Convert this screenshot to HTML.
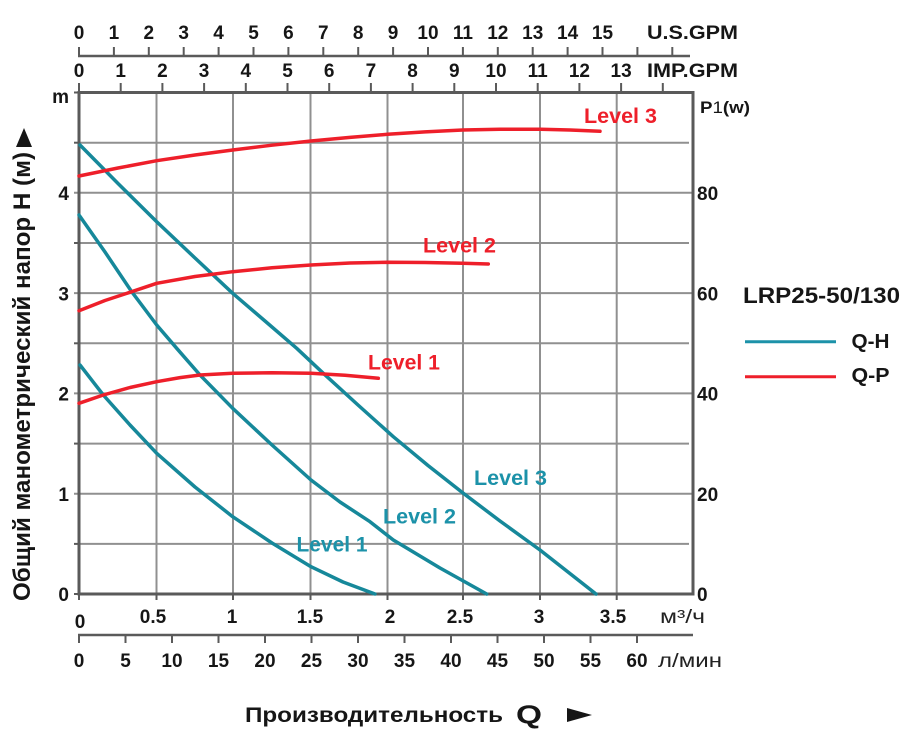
<!DOCTYPE html>
<html>
<head>
<meta charset="utf-8">
<style>
  html,body{margin:0;padding:0;background:#fff;}
  svg{display:block;}
  text{font-family:"Liberation Sans","DejaVu Sans",sans-serif;}
  .b{font-weight:bold;fill:#161616;}
</style>
</head>
<body>
<svg width="911" height="741" viewBox="0 0 911 741" xmlns="http://www.w3.org/2000/svg">
<rect x="0" y="0" width="911" height="741" fill="#fff"/>

<!-- grid -->
<g stroke="#909090" stroke-width="2" fill="none">
  <line x1="156.5" y1="92" x2="156.5" y2="594"/>
  <line x1="233" y1="92" x2="233" y2="594"/>
  <line x1="310.5" y1="92" x2="310.5" y2="594"/>
  <line x1="387.5" y1="92" x2="387.5" y2="594"/>
  <line x1="463" y1="92" x2="463" y2="594"/>
  <line x1="540" y1="92" x2="540" y2="594"/>
  <line x1="616.7" y1="92" x2="616.7" y2="594"/>
  <line x1="79" y1="543.9" x2="689" y2="543.9"/>
  <line x1="74" y1="493.7" x2="693" y2="493.7"/>
  <line x1="79" y1="443.6" x2="689" y2="443.6"/>
  <line x1="74" y1="393.4" x2="693" y2="393.4"/>
  <line x1="79" y1="343.3" x2="689" y2="343.3"/>
  <line x1="74" y1="293.1" x2="693" y2="293.1"/>
  <line x1="79" y1="243" x2="689" y2="243"/>
  <line x1="74" y1="192.8" x2="693" y2="192.8"/>
  <line x1="79" y1="142.7" x2="689" y2="142.7"/>
</g>
<!-- small left ticks at half steps -->
<g stroke="#5a5a5a" stroke-width="2">
  <line x1="74" y1="543.9" x2="79" y2="543.9"/>
  <line x1="74" y1="443.6" x2="79" y2="443.6"/>
  <line x1="74" y1="343.3" x2="79" y2="343.3"/>
  <line x1="74" y1="243" x2="79" y2="243"/>
  <line x1="74" y1="142.7" x2="79" y2="142.7"/>
  <line x1="74" y1="594" x2="79" y2="594"/>
  <line x1="74" y1="92.5" x2="79" y2="92.5"/>
  <!-- bottom ticks -->
  <line x1="79" y1="594" x2="79" y2="600"/>
  <line x1="156.5" y1="594" x2="156.5" y2="600"/>
  <line x1="233" y1="594" x2="233" y2="600"/>
  <line x1="310.5" y1="594" x2="310.5" y2="600"/>
  <line x1="387.5" y1="594" x2="387.5" y2="600"/>
  <line x1="463" y1="594" x2="463" y2="600"/>
  <line x1="540" y1="594" x2="540" y2="600"/>
  <line x1="616.7" y1="594" x2="616.7" y2="600"/>
</g>

<!-- frame -->
<rect x="79" y="92.5" width="614" height="501.5" fill="none" stroke="#5a5a5a" stroke-width="3"/>

<!-- US GPM axis -->
<g stroke="#5a5a5a" stroke-width="2.5">
  <line x1="78" y1="56" x2="690" y2="56"/>
</g>
<g stroke="#5a5a5a" stroke-width="2">
  <line x1="79" y1="47" x2="79" y2="56"/>
  <line x1="113.9" y1="47" x2="113.9" y2="56"/>
  <line x1="148.8" y1="47" x2="148.8" y2="56"/>
  <line x1="183.7" y1="47" x2="183.7" y2="56"/>
  <line x1="218.6" y1="47" x2="218.6" y2="56"/>
  <line x1="253.5" y1="47" x2="253.5" y2="56"/>
  <line x1="288.4" y1="47" x2="288.4" y2="56"/>
  <line x1="323.3" y1="47" x2="323.3" y2="56"/>
  <line x1="358.2" y1="47" x2="358.2" y2="56"/>
  <line x1="393.1" y1="47" x2="393.1" y2="56"/>
  <line x1="428" y1="47" x2="428" y2="56"/>
  <line x1="462.9" y1="47" x2="462.9" y2="56"/>
  <line x1="497.8" y1="47" x2="497.8" y2="56"/>
  <line x1="532.7" y1="47" x2="532.7" y2="56"/>
  <line x1="567.6" y1="47" x2="567.6" y2="56"/>
  <line x1="602.5" y1="47" x2="602.5" y2="56"/>
  <line x1="637.4" y1="47" x2="637.4" y2="56"/>
  <line x1="672.3" y1="47" x2="672.3" y2="56"/>
</g>
<g class="b" font-size="19" text-anchor="middle">
  <text x="79" y="39">0</text>
  <text x="113.9" y="39">1</text>
  <text x="148.8" y="39">2</text>
  <text x="183.7" y="39">3</text>
  <text x="218.6" y="39">4</text>
  <text x="253.5" y="39">5</text>
  <text x="288.4" y="39">6</text>
  <text x="323.3" y="39">7</text>
  <text x="358.2" y="39">8</text>
  <text x="393.1" y="39">9</text>
  <text x="428" y="39">10</text>
  <text x="462.9" y="39">11</text>
  <text x="497.8" y="39">12</text>
  <text x="532.7" y="39">13</text>
  <text x="567.6" y="39">14</text>
  <text x="602.5" y="39">15</text>
</g>
<text class="b" x="647" y="39" font-size="19" textLength="91" lengthAdjust="spacingAndGlyphs">U.S.GPM</text>

<!-- IMP GPM axis -->
<g stroke="#5a5a5a" stroke-width="2">
  <line x1="79" y1="83" x2="79" y2="92"/>
  <line x1="120.7" y1="83" x2="120.7" y2="92"/>
  <line x1="162.4" y1="83" x2="162.4" y2="92"/>
  <line x1="204.1" y1="83" x2="204.1" y2="92"/>
  <line x1="245.8" y1="83" x2="245.8" y2="92"/>
  <line x1="287.5" y1="83" x2="287.5" y2="92"/>
  <line x1="329.2" y1="83" x2="329.2" y2="92"/>
  <line x1="370.9" y1="83" x2="370.9" y2="92"/>
  <line x1="412.6" y1="83" x2="412.6" y2="92"/>
  <line x1="454.3" y1="83" x2="454.3" y2="92"/>
  <line x1="496" y1="83" x2="496" y2="92"/>
  <line x1="537.7" y1="83" x2="537.7" y2="92"/>
  <line x1="579.4" y1="83" x2="579.4" y2="92"/>
  <line x1="621.1" y1="83" x2="621.1" y2="92"/>
  <line x1="662.8" y1="83" x2="662.8" y2="92"/>
</g>
<g class="b" font-size="19" text-anchor="middle">
  <text x="79" y="77">0</text>
  <text x="120.7" y="77">1</text>
  <text x="162.4" y="77">2</text>
  <text x="204.1" y="77">3</text>
  <text x="245.8" y="77">4</text>
  <text x="287.5" y="77">5</text>
  <text x="329.2" y="77">6</text>
  <text x="370.9" y="77">7</text>
  <text x="412.6" y="77">8</text>
  <text x="454.3" y="77">9</text>
  <text x="496" y="77">10</text>
  <text x="537.7" y="77">11</text>
  <text x="579.4" y="77">12</text>
  <text x="621.1" y="77">13</text>
</g>
<text class="b" x="647" y="77" font-size="19" textLength="91" lengthAdjust="spacingAndGlyphs">IMP.GPM</text>

<!-- left axis labels -->
<g class="b" font-size="19" text-anchor="end">
  <text x="69" y="103" >m</text>
  <text x="69" y="200">4</text>
  <text x="69" y="300.5">3</text>
  <text x="69" y="400.5">2</text>
  <text x="69" y="501">1</text>
  <text x="69" y="601">0</text>
</g>

<!-- right axis labels -->
<text class="b" x="700" y="113" font-size="17" textLength="50" lengthAdjust="spacingAndGlyphs">P<tspan font-weight="normal">1</tspan>(w)</text>
<g class="b" font-size="19">
  <text x="697" y="200">80</text>
  <text x="697" y="300.5">60</text>
  <text x="697" y="400.5">40</text>
  <text x="697" y="501">20</text>
  <text x="697" y="601">0</text>
</g>

<!-- bottom m3/h labels -->
<g class="b" font-size="19" text-anchor="middle">
  <text x="80" y="628">0</text>
  <text x="153" y="623">0.5</text>
  <text x="232" y="623">1</text>
  <text x="310" y="623">1.5</text>
  <text x="390" y="623">2</text>
  <text x="460" y="623">2.5</text>
  <text x="539" y="623">3</text>
  <text x="613" y="623">3.5</text>
</g>
<text x="660" y="623" font-size="19" fill="#222" textLength="45" lengthAdjust="spacingAndGlyphs">м³/ч</text>

<!-- l/min axis -->
<line x1="78" y1="635" x2="693" y2="635" stroke="#5a5a5a" stroke-width="2.5"/>
<g stroke="#5a5a5a" stroke-width="2">
  <line x1="79" y1="635" x2="79" y2="643"/>
  <line x1="125.5" y1="635" x2="125.5" y2="643"/>
  <line x1="172" y1="635" x2="172" y2="643"/>
  <line x1="218.5" y1="635" x2="218.5" y2="643"/>
  <line x1="265" y1="635" x2="265" y2="643"/>
  <line x1="311.5" y1="635" x2="311.5" y2="643"/>
  <line x1="358" y1="635" x2="358" y2="643"/>
  <line x1="404.5" y1="635" x2="404.5" y2="643"/>
  <line x1="451" y1="635" x2="451" y2="643"/>
  <line x1="497.5" y1="635" x2="497.5" y2="643"/>
  <line x1="544" y1="635" x2="544" y2="643"/>
  <line x1="590.5" y1="635" x2="590.5" y2="643"/>
  <line x1="637" y1="635" x2="637" y2="643"/>
</g>
<g class="b" font-size="19" text-anchor="middle">
  <text x="79" y="667">0</text>
  <text x="125.5" y="667">5</text>
  <text x="172" y="667">10</text>
  <text x="218.5" y="667">15</text>
  <text x="265" y="667">20</text>
  <text x="311.5" y="667">25</text>
  <text x="358" y="667">30</text>
  <text x="404.5" y="667">35</text>
  <text x="451" y="667">40</text>
  <text x="497.5" y="667">45</text>
  <text x="544" y="667">50</text>
  <text x="590.5" y="667">55</text>
  <text x="637" y="667">60</text>
</g>
<text x="658" y="667" font-size="19" fill="#222" textLength="64" lengthAdjust="spacingAndGlyphs">л/мин</text>

<!-- x title -->
<text class="b" x="245" y="722" font-size="21" fill="#222" textLength="258" lengthAdjust="spacingAndGlyphs">Производительность</text>
<text class="b" x="516" y="723.5" font-size="26" textLength="26" lengthAdjust="spacingAndGlyphs">Q</text>
<polygon points="567,708 592,715 567,722" fill="#161616"/>

<!-- y title -->
<text class="b" transform="translate(30,601) rotate(-90)" font-size="24" fill="#222" textLength="449" lengthAdjust="spacingAndGlyphs">Общий манометрический напор H (м)</text>
<polygon points="16,147 32,147 24,128" fill="#161616"/>

<!-- Q-H curves -->
<g fill="none" stroke="#16889a" stroke-width="3.5" stroke-linejoin="round" stroke-linecap="round">
  <polyline points="80,145 118,183.5 156.7,221.7 195,258 232.7,293.3 265,321 296.7,348.3 323.3,373.3 358,405 393.3,436.7 428,465.5 463.3,493.3 500,521 540,550 568,572 596,594"/>
  <polyline points="79,215 105,252 131.7,291.7 156.7,325 176.7,348.3 200,375 232.7,408.3 272,445 311,480 340,502 370,521.7 393.3,540 440,568 486.7,594"/>
  <polyline points="80,365 103.3,395 130,425 156.7,453.3 195,487 232.7,516.7 272,543 311,566.7 343,582 375,594"/>
</g>

<!-- Q-P curves -->
<g fill="none" stroke="#ee1f2a" stroke-width="3.5" stroke-linejoin="round" stroke-linecap="round">
  <polyline points="79,176 118,168 156.7,160.7 195,155 232.7,150 272,145.2 311,141 350,137.4 387.7,134.3 425,131.9 462.7,130 500,129.3 540.7,129.3 570,130 600,131.3"/>
  <polyline points="79,310.7 105,300.5 131.7,291.7 156.7,283.3 195,276.5 232.7,271.7 272,267.8 311,265 350,263 387.7,262.3 425,262.5 462.7,263.3 488.3,264"/>
  <polyline points="79,403.3 103.3,395 130,387.5 156.7,381.7 180,377.6 200,375 232.7,373.3 272,372.8 311,373.3 345,375.2 378.3,378.3"/>
</g>

<!-- curve labels -->
<g font-weight="bold" font-size="21" fill="#ee1f2a">
  <text x="584" y="123" textLength="73" lengthAdjust="spacingAndGlyphs">Level 3</text>
  <text x="423" y="252.5" textLength="73" lengthAdjust="spacingAndGlyphs">Level 2</text>
  <text x="368" y="369.5" textLength="72" lengthAdjust="spacingAndGlyphs">Level 1</text>
</g>
<g font-weight="bold" font-size="21" fill="#1c92a9">
  <text x="474" y="485" textLength="73" lengthAdjust="spacingAndGlyphs">Level 3</text>
  <text x="383" y="523.3" textLength="73" lengthAdjust="spacingAndGlyphs">Level 2</text>
  <text x="296.5" y="551.7" textLength="71" lengthAdjust="spacingAndGlyphs">Level 1</text>
</g>

<!-- legend -->
<text class="b" x="743" y="303" font-size="22" fill="#2a2a2a" textLength="157" lengthAdjust="spacingAndGlyphs">LRP25-50/130</text>
<line x1="745" y1="341.7" x2="836" y2="341.7" stroke="#1c92a9" stroke-width="3"/>
<line x1="745" y1="376.7" x2="836" y2="376.7" stroke="#ee1f2a" stroke-width="3"/>
<text class="b" x="851.5" y="348" font-size="20" fill="#2a2a2a" textLength="38" lengthAdjust="spacingAndGlyphs">Q-H</text>
<text class="b" x="851.5" y="382" font-size="20" fill="#2a2a2a" textLength="38" lengthAdjust="spacingAndGlyphs">Q-P</text>
</svg>
</body>
</html>
